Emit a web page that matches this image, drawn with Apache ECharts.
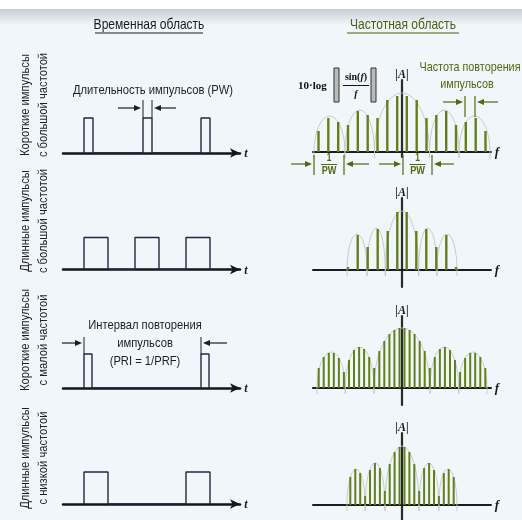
<!DOCTYPE html>
<html><head><meta charset="utf-8">
<script src="https://cdn.jsdelivr.net/npm/echarts@6/dist/echarts.min.js"></script>
<style>html,body{margin:0;padding:0;background:#f0f6f9;} #c{width:522px;height:520px;}</style>
</head><body><div id="c"></div>
<script>
const NARROW = '"Liberation Sans","Arial",sans-serif';
const SERIF = '"Liberation Serif","DejaVu Serif",serif';
const SQUEEZE = 0.83;

// ---------- data ----------
const titles = ["Временная область", "Частотная область"];
const rowLabels = [
  ["Короткие импульсы", "с большой частотой"],
  ["Длинные импульсы", "с большой частотой"],
  ["Короткие импульсы", "с малой частотой"],
  ["Длинные импульсы", "с низкой частотой"]
];
// time domain: pulse start times, widths, heights
const pulseStarts1 = [21, 80, 138];
const pulseStarts2 = [21, 72, 123];
const pulseStarts3 = [21, 138];
const pulseStarts4 = [21, 123];
const pulseWidths = [9, 24, 8, 24];
const pulseHeights = [35, 32, 34, 32];

// frequency domain: line frequencies and amplitudes
const specF1 = [-83.5,-73.7,-63.8,-54,-44.2,-34.3,-24.5,-14.7,-4.8,4.8,14.7,24.5,34.3,44.2,54,63.8,73.7,83.5];
const specA1 = [21,34,30,27,41,37,34,52,56,56,52,34,37,41,27,30,34,21];
const specF2 = [-54,-44.3,-34.3,-24.3,-14.3,-4.7,4.7,14.3,24.3,34.3,44.3,54];
const specA2 = [3,35,23,41,39,58,58,39,41,23,35,3];
const specF3 = [-83.3,-78.3,-73.2,-68.2,-63.1,-58.1,-53,-48,-42.9,-37.9,-32.8,-27.8,-22.7,-17.7,-12.6,-7.6,-2.5,
                2.5,7.6,12.6,17.7,22.7,27.8,32.8,37.9,42.9,48,53,58.1,63.1,68.2,73.2,78.3,83.3];
const specA3 = [20,31,35,35,30,16,28,38,41,39,31,20,37,47,54,58,60,
                60,58,54,47,37,20,31,39,41,38,28,16,30,35,35,31,20];
const specF4 = [-51.7,-46.7,-41.8,-36.9,-32,-27.1,-22.1,-17.2,-12.3,-7.38,-2.46,
                2.46,7.38,12.3,17.2,22.1,27.1,32,36.9,41.8,46.7,51.7];
const specA4 = [28,36,32,9,35,42,37,14,41,53,58,58,53,41,14,37,42,35,9,32,36,28];
// envelope lobes: [start f, end f, peak level]
const lobes1 = [[-88,-57,36],[-57,-27.5,42],[-27.5,27.5,59],[27.5,57,42],[57,88,36]];
const lobes2 = [[-55,-35,36],[-35,-16.7,42],[-16.7,16.7,59],[16.7,35,42],[35,55,36]];
const lobes3 = [[-85,-56.7,36],[-56.7,-28,41],[-28,28,60],[28,56.7,41],[56.7,85,36]];
const lobes4 = [[-55,-36.8,36],[-36.8,-17,42],[-17,17,59],[17,36.8,42],[36.8,55,36]];

// ---------- layout / style ----------
const leftBase = [153, 269.5, 388, 504];
const rightBase = [152, 270, 388, 505];
const rightBelow = [5, 17, 17, 15];
const labelY = [105, 221, 340, 458];
const stemWidths = [2.4, 2.4, 2, 2];
const OLIVE = '#55670f';
const STEM = '#62801a';
const DARK = '#1e1e24';

const pulses = [pulseStarts1, pulseStarts2, pulseStarts3, pulseStarts4];
const specs = [[specF1, specA1, lobes1],[specF2, specA2, lobes2],[specF3, specA3, lobes3],[specF4, specA4, lobes4]];

const grid = [], xAxis = [], yAxis = [], series = [];
const hidden = {axisTick:{show:false}, axisLabel:{show:false}, splitLine:{show:false}};

for (let i = 0; i < 4; i++) {
  grid.push({left: 63, top: leftBase[i] - 40, width: 177, height: 40});
  xAxis.push(Object.assign({gridIndex: 2*i, type: 'value', min: 0, max: 177,
    axisLine: {show: true, symbol: ['none', 'arrow'], symbolSize: [7, 10],
      lineStyle: {color: '#15151c', width: 2.5}}}, hidden));
  yAxis.push(Object.assign({gridIndex: 2*i, type: 'value', min: 0, max: 40,
    axisLine: {show: false}}, hidden));
  const d = [];
  pulses[i].forEach(s => {
    d.push([s, 0], [s, pulseHeights[i]], [s + pulseWidths[i], pulseHeights[i]], [s + pulseWidths[i], 0]);
  });
  series.push({type: 'line', xAxisIndex: 2*i, yAxisIndex: 2*i, data: d, symbol: 'none',
    lineStyle: {color: '#262640', width: 1.4}, z: 3});

  grid.push({left: 313, top: rightBase[i] - 72, width: 178, height: 72 + rightBelow[i]});
  xAxis.push(Object.assign({gridIndex: 2*i+1, type: 'value', min: -89, max: 89,
    axisLine: {show: true, onZero: true, lineStyle: {color: '#1c1c1c', width: 2}}}, hidden));
  yAxis.push(Object.assign({gridIndex: 2*i+1, type: 'value', min: -rightBelow[i], max: 72,
    axisLine: {show: true, onZero: true, lineStyle: {color: '#2a2a2a', width: 2.2}}}, hidden));
  const [F, A, L] = specs[i];
  series.push({type: 'custom', xAxisIndex: 2*i+1, yAxisIndex: 2*i+1, data: L, clip: false, z: 1,
    renderItem: function (params, api) {
      const a = api.value(0), b = api.value(1), h = api.value(2);
      const p0 = api.coord([a, 0]), p1 = api.coord([b, 0]), pk = api.coord([(a+b)/2, h]);
      const rx = (p1[0] - p0[0]) / 2, ry = p0[1] - pk[1], ext = 6;
      return {type: 'path', shape: {pathData:
        'M' + p0[0] + ' ' + (p0[1] + ext) + ' L' + p0[0] + ' ' + p0[1] +
        ' A' + rx + ' ' + ry + ' 0 0 1 ' + p1[0] + ' ' + p1[1] +
        ' L' + p1[0] + ' ' + (p1[1] + ext)},
        style: {fill: 'none', stroke: '#c4c6c4', lineWidth: 0.9}};
    }});
  series.push({type: 'bar', xAxisIndex: 2*i+1, yAxisIndex: 2*i+1, barWidth: stemWidths[i],
    data: F.map((f, k) => [f, A[k]]), itemStyle: {color: STEM}, z: 2});
}

// ---------- annotations ----------
function txt(text, x, y, st, extra) {
  return Object.assign({type: 'text', x: x, y: y, z: 20, scaleX: SQUEEZE, style: Object.assign({text: text, fill: DARK,
    font: '13px ' + NARROW, align: 'center', verticalAlign: 'middle'}, st || {})}, extra || {});
}
function hline(x1, x2, y, color, w) {
  return {type: 'line', z: 20, shape: {x1: x1, y1: y, x2: x2, y2: y}, style: {stroke: color, lineWidth: w || 1}};
}
function vline(x, y1, y2, color, w) {
  return {type: 'line', z: 20, shape: {x1: x, y1: y1, x2: x, y2: y2}, style: {stroke: color, lineWidth: w || 1}};
}
function arrow(x1, y, x2, color) {
  const d = x2 > x1 ? 1 : -1;
  return [hline(x1, x2 - d * 4, y, color, 1.2),
    {type: 'polygon', z: 20, shape: {points: [[x2, y], [x2 - d * 7, y - 3], [x2 - d * 7, y + 3]]}, style: {fill: color}}];
}

const g = [];
g.push({type: 'rect', z: 0, shape: {x: 0, y: 0, width: 522, height: 9}, style: {fill: '#ffffff'}});
g.push({type: 'rect', z: 0, shape: {x: 0, y: 9, width: 522, height: 16}, style: {fill: {type: 'linear', x: 0, y: 0, x2: 0, y2: 1,
  colorStops: [{offset: 0, color: '#c6cfd6'}, {offset: 1, color: '#f0f6f9'}]}}});

g.push(txt(titles[0], 149, 25, {font: '14.5px ' + NARROW, fill: '#1a1a1a'}));
g.push(hline(95, 203, 33, '#1a1a1a', 1));
g.push(txt(titles[1], 403, 25, {font: '14.5px ' + NARROW, fill: '#4d5c12'}));
g.push(hline(347, 459, 33, '#4d5c12', 1));

for (let i = 0; i < 4; i++) {
  g.push(txt(rowLabels[i][0], 25, labelY[i], {font: '13.5px ' + NARROW, fill: '#1e1e24'}, {rotation: Math.PI / 2}));
  g.push(txt(rowLabels[i][1], 43, labelY[i], {font: '13.5px ' + NARROW, fill: '#1e1e24'}, {rotation: Math.PI / 2}));
  g.push(txt('t', 246, leftBase[i] + 1, {font: 'italic bold 12px ' + SERIF, fill: '#1a1a1a'}, {scaleX: 1}));
  g.push(txt('f', 497, rightBase[i] + 1, {font: 'italic bold 13px ' + SERIF, fill: '#1a1a1a'}, {scaleX: 1}));
  g.push(txt('{b||}{i|A}{b||}', 402, rightBase[i] - 77, {fill: '#1a1a1a', rich: {
    b: {font: 'bold 12px ' + SERIF, fill: '#1a1a1a'}, i: {font: 'italic bold 12px ' + SERIF, fill: '#1a1a1a'}}}, {scaleX: 1}));
}

g.push(txt('Длительность импульсов (PW)', 153, 90, {font: '13.5px ' + NARROW}));
g.push(vline(143, 100, 118, DARK, 1), vline(152, 100, 118, DARK, 1));
g.push(...arrow(118, 108, 141, DARK), ...arrow(176, 108, 154, DARK));

g.push(txt('Интервал повторения', 145, 325, {font: '13.5px ' + NARROW}));
g.push(txt('импульсов', 145, 343, {font: '13.5px ' + NARROW}));
g.push(txt('(PRI = 1/PRF)', 145, 361, {font: '13.5px ' + NARROW}));
g.push(vline(84, 337, 354, DARK, 1), vline(201, 337, 354, DARK, 1));
g.push(...arrow(62, 343, 82, DARK), ...arrow(227, 343, 203, DARK));

g.push(txt('10·log', 298, 86, {font: 'bold 11px ' + SERIF, fill: '#111', align: 'left'}, {scaleX: 1}));
g.push({type: 'rect', z: 20, shape: {x: 334, y: 68, width: 5, height: 34}, style: {fill: '#b9bcb9', stroke: '#333', lineWidth: 1}});
g.push({type: 'rect', z: 20, shape: {x: 371, y: 68, width: 5, height: 34}, style: {fill: '#b9bcb9', stroke: '#333', lineWidth: 1}});
g.push(txt('{b|sin(}{i|f}{b|)}', 356, 77, {rich: {b: {font: 'bold 10px ' + SERIF, fill: '#111'}, i: {font: 'italic bold 10px ' + SERIF, fill: '#111'}}}, {scaleX: 1}));
g.push(hline(343, 369, 85.5, '#111', 1));
g.push(txt('f', 356, 94, {font: 'italic bold 10px ' + SERIF, fill: '#111'}, {scaleX: 1}));

g.push(txt('Частота повторения', 470, 67, {font: '13px ' + NARROW, fill: OLIVE}));
g.push(txt('импульсов', 467, 84, {font: '13px ' + NARROW, fill: OLIVE}));
g.push(vline(465, 96, 117, OLIVE, 1.2), vline(475, 96, 117, OLIVE, 1.2));
g.push(...arrow(443, 102, 463, OLIVE), ...arrow(498, 102, 477, OLIVE));

[[314, 344, 291, 369], [403, 432, 379, 454]].forEach(([a, b, la, ra]) => {
  g.push(vline(a, 155, 175, OLIVE, 1.2), vline(b, 155, 175, OLIVE, 1.2));
  g.push(...arrow(la, 164, a - 2, OLIVE), ...arrow(ra, 164, b + 2, OLIVE));
  const c = (a + b) / 2;
  g.push(txt('1', c, 158.5, {font: 'bold 10px ' + NARROW, fill: OLIVE}));
  g.push(hline(c - 8, c + 8, 164.5, OLIVE, 1));
  g.push(txt('PW', c, 171, {font: 'bold 11px ' + NARROW, fill: OLIVE}));
});

const chart = echarts.init(document.getElementById('c'), null, {renderer: 'canvas'});
chart.setOption({
  animation: false,
  backgroundColor: '#f0f6f9',
  grid: grid, xAxis: xAxis, yAxis: yAxis, series: series, graphic: g
});
</script></body></html>
